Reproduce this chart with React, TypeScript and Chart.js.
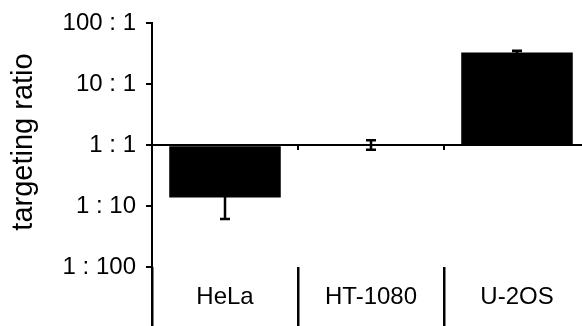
import React, { useEffect, useRef } from "react";
import { Chart, registerables } from "chart.js";

Chart.register(...registerables);

const CATEGORIES = ["HeLa", "HT-1080", "U-2OS"];
const RATIO = [0.14, 1.0, 33];
const ERR_LOW = [0.062, 0.84, 31];
const ERR_HIGH = [0.32, 1.2, 35.2];
const TICK_VALUES = [0.01, 0.1, 1, 10, 100];
const TICK_LABELS = ["1 : 100", "1 : 10", "1 : 1", "10 : 1", "100 : 1"];
const Y_TITLE = "targeting ratio";
const BASELINE = 1;
const LABEL_LEVEL = 0.01;
const Y_MAX = 100;
const Y_MIN = 0.0011;

const FONT = "'Liberation Sans', Arial, Helvetica, sans-serif";

const errorBars = {
  id: "errorBars",
  afterDatasetsDraw(chart: any) {
    const { ctx } = chart;
    const xs = chart.scales.x;
    const ys = chart.scales.y;
    ctx.save();
    ctx.strokeStyle = "#000";
    ctx.lineWidth = 2.5;
    CATEGORIES.forEach((_c, i) => {
      const px = xs.getPixelForValue(i);
      const pl = ys.getPixelForValue(ERR_LOW[i]);
      const ph = ys.getPixelForValue(ERR_HIGH[i]);
      ctx.beginPath();
      ctx.moveTo(px, pl);
      ctx.lineTo(px, ph);
      ctx.moveTo(px - 5, pl);
      ctx.lineTo(px + 5, pl);
      ctx.moveTo(px - 5, ph);
      ctx.lineTo(px + 5, ph);
      ctx.stroke();
    });
    ctx.restore();
  },
};

const yTitle = {
  id: "yTitle",
  afterDraw(chart: any) {
    const { ctx, chartArea } = chart;
    ctx.save();
    ctx.fillStyle = "#000";
    ctx.font = `29px ${FONT}`;
    ctx.textAlign = "center";
    ctx.textBaseline = "middle";
    ctx.translate(24, chartArea.top + 119);
    ctx.rotate(-Math.PI / 2);
    ctx.fillText(Y_TITLE, 0, 0);
    ctx.restore();
  },
};

export default function App() {
  const ref = useRef<HTMLCanvasElement | null>(null);

  useEffect(() => {
    if (!ref.current) return;
    const chart = new Chart(ref.current, {
      type: "bar",
      data: {
        labels: CATEGORIES,
        datasets: [
          {
            data: RATIO,
            base: BASELINE,
            backgroundColor: "#000",
            borderWidth: 0,
            categoryPercentage: 0.764,
            barPercentage: 1,
          } as any,
        ],
      },
      options: {
        responsive: false,
        animation: false,
        layout: { padding: { top: 23, right: 10, bottom: 0, left: 0 } },
        plugins: { legend: { display: false }, tooltip: { enabled: false } },
        scales: {
          x: {
            type: "category",
            position: { y: BASELINE } as any,
            offset: true,
            ticks: { display: false },
            grid: {
              offset: true,
              drawOnChartArea: false,
              drawTicks: true,
              tickLength: 4,
              color: "#000",
              lineWidth: 2,
            },
            border: { display: true, color: "#000", width: 2 },
          },
          xl: {
            type: "category",
            axis: "x",
            position: { y: LABEL_LEVEL } as any,
            offset: true,
            ticks: {
              color: "#000",
              font: { family: FONT, size: 24 },
              padding: -48,
              maxRotation: 0,
              autoSkip: false,
            },
            grid: {
              offset: true,
              drawOnChartArea: false,
              drawTicks: true,
              tickLength: 64,
              color: "#000",
              lineWidth: 2.5,
            },
            border: { display: false },
          } as any,
          y: {
            type: "logarithmic",
            min: Y_MIN,
            max: Y_MAX,
            afterBuildTicks: (s: any) => {
              s.ticks = TICK_VALUES.map((v) => ({ value: v }));
            },
            afterFit: (s: any) => {
              s.width = 152;
              s.paddingTop = 0;
              s.paddingBottom = 0;
            },
            ticks: {
              autoSkip: false,
              color: "#000",
              font: { family: FONT, size: 24 },
              padding: 10,
              callback: (v: any) => {
                const i = TICK_VALUES.indexOf(Number(v));
                return i >= 0 ? TICK_LABELS[i] : "";
              },
            },
            grid: {
              drawOnChartArea: false,
              drawTicks: true,
              tickLength: 6,
              color: "#000",
              lineWidth: 2,
            },
            border: { display: true, color: "#000", width: 2 },
          },
        },
      } as any,
      plugins: [errorBars, yTitle],
    });
    return () => chart.destroy();
  }, []);

  return (
    <div
      style={{
        position: "fixed",
        left: 0,
        top: 0,
        width: 582,
        height: 326,
        overflow: "hidden",
        background: "#fff",
      }}
    >
      <canvas ref={ref} width={600} height={326} style={{ width: 600, height: 326, display: "block" }} />
    </div>
  );
}
